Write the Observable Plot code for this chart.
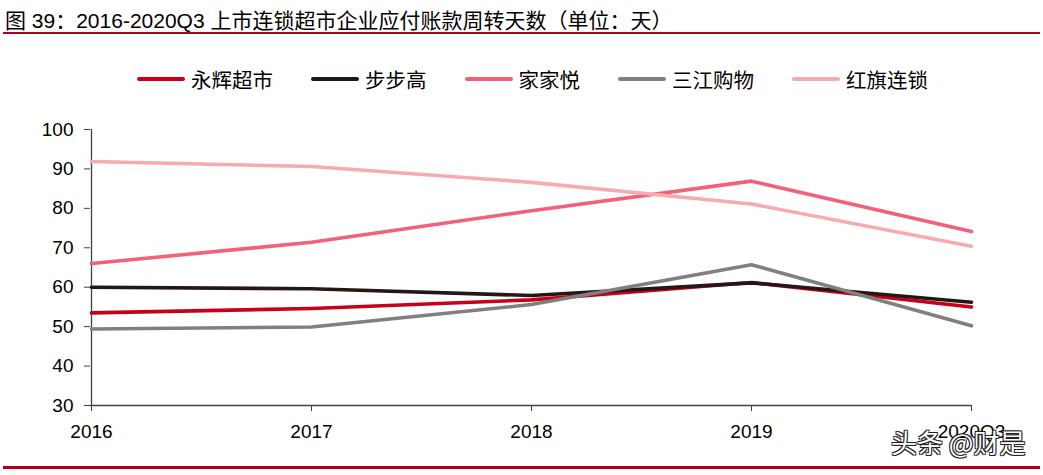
<!DOCTYPE html>
<html>
<head>
<meta charset="utf-8">
<script src="https://cdn.jsdelivr.net/npm/d3@7"></script>
<script src="https://cdn.jsdelivr.net/npm/@observablehq/plot@0.6"></script>
<style>
  html, body { margin: 0; padding: 0; background: #fff; }
  body { width: 1043px; height: 475px; position: relative; overflow: hidden;
         font-family: "Liberation Sans", "Noto Sans CJK SC", sans-serif; }
  #title { position: absolute; left: 5px; top: 4px; font-size: 21px; color: #000; white-space: nowrap; }
  #topline { position: absolute; left: 3px; top: 32px; width: 1037px; height: 2px; background: #B0001E; }
  #legend { position: absolute; left: 137px; top: 64px; display: flex; align-items: center; font-size: 20.5px; color: #000; }
  .item { display: flex; align-items: center; margin-right: 38px; }
  .swatch { width: 48px; height: 4px; margin-right: 6px; border-radius: 2px; }
  #chart { position: absolute; left: 0; top: 90px; }
  #bottomline { position: absolute; left: 3px; top: 466px; width: 1037px; height: 3px; background: #B0001E; }
  #wm { position: absolute; left: 891px; top: 423px; font-size: 26px; color: #fff; white-space: nowrap;
        font-family: "Noto Sans CJK SC", sans-serif;
        text-shadow: -1px -1px 0 #222, 1px -1px 0 #222, -1px 1px 0 #222, 1px 1px 0 #222; }
</style>
</head>
<body>
<div id="title">图 39：2016-2020Q3 上市连锁超市企业应付账款周转天数（单位：天）</div>
<div id="topline"></div>
<div id="legend"></div>
<div id="chart"></div>
<div id="bottomline"></div>
<div id="wm">头条 @财是</div>
<script>
// ---- data ----
const years = ["2016", "2017", "2018", "2019", "2020Q3"];
const seriesNames = ["永辉超市", "步步高", "家家悦", "三江购物", "红旗连锁"];
const yonghui = [53.5, 54.6, 56.8, 61.2, 55.0];
const bubugao = [60.0, 59.6, 57.9, 61.1, 56.2];
const jiajiayue = [66.0, 71.4, 79.4, 86.9, 74.1];
const sanjiang = [49.4, 49.9, 55.6, 65.7, 50.2];
const hongqi = [91.9, 90.6, 86.6, 81.1, 70.4];
const yTicks = [30, 40, 50, 60, 70, 80, 90, 100];

// ---- styles ----
const seriesColors = ["#C8001A", "#231815", "#F2607A", "#808080", "#F7ABB1"];

const allSeries = [yonghui, bubugao, jiajiayue, sanjiang, hongqi];
const table = [];
allSeries.forEach((vals, i) => {
  vals.forEach((v, j) => table.push({series: seriesNames[i], year: years[j], value: v}));
});

// legend
const legend = document.getElementById("legend");
seriesNames.forEach((name, i) => {
  const it = document.createElement("div");
  it.className = "item";
  const sw = document.createElement("div");
  sw.className = "swatch";
  sw.style.background = seriesColors[i];
  const tx = document.createElement("span");
  tx.textContent = name;
  it.appendChild(sw); it.appendChild(tx);
  legend.appendChild(it);
});

const chart = Plot.plot({
  width: 1043,
  height: 385,
  marginTop: 39,
  marginBottom: 70,
  marginLeft: 90,
  marginRight: 72,
  style: {fontFamily: "'Liberation Sans', Arial, sans-serif", fontSize: "19px", color: "#000", background: "transparent"},
  x: {type: "point", domain: years, padding: 0},
  y: {domain: [30, 100]},
  color: {domain: seriesNames, range: seriesColors},
  marks: [
    Plot.axisY({ticks: yTicks, tickSize: 6, tickPadding: 11, label: null, stroke: "#404040", fill: "#000", fontSize: 19}),
    Plot.axisX({tickSize: 6, tickPadding: 13, label: null, stroke: "#404040", fill: "#000", fontSize: 19}),
    Plot.ruleX([years[0]], {stroke: "#404040", strokeWidth: 1.3}),
    Plot.ruleY([30], {stroke: "#404040", strokeWidth: 1.3}),
    Plot.lineY(table, {x: "year", y: "value", stroke: "series", z: "series", strokeWidth: 3.6, strokeLinecap: "round"})
  ]
});
document.getElementById("chart").appendChild(chart);
</script>
</body>
</html>
